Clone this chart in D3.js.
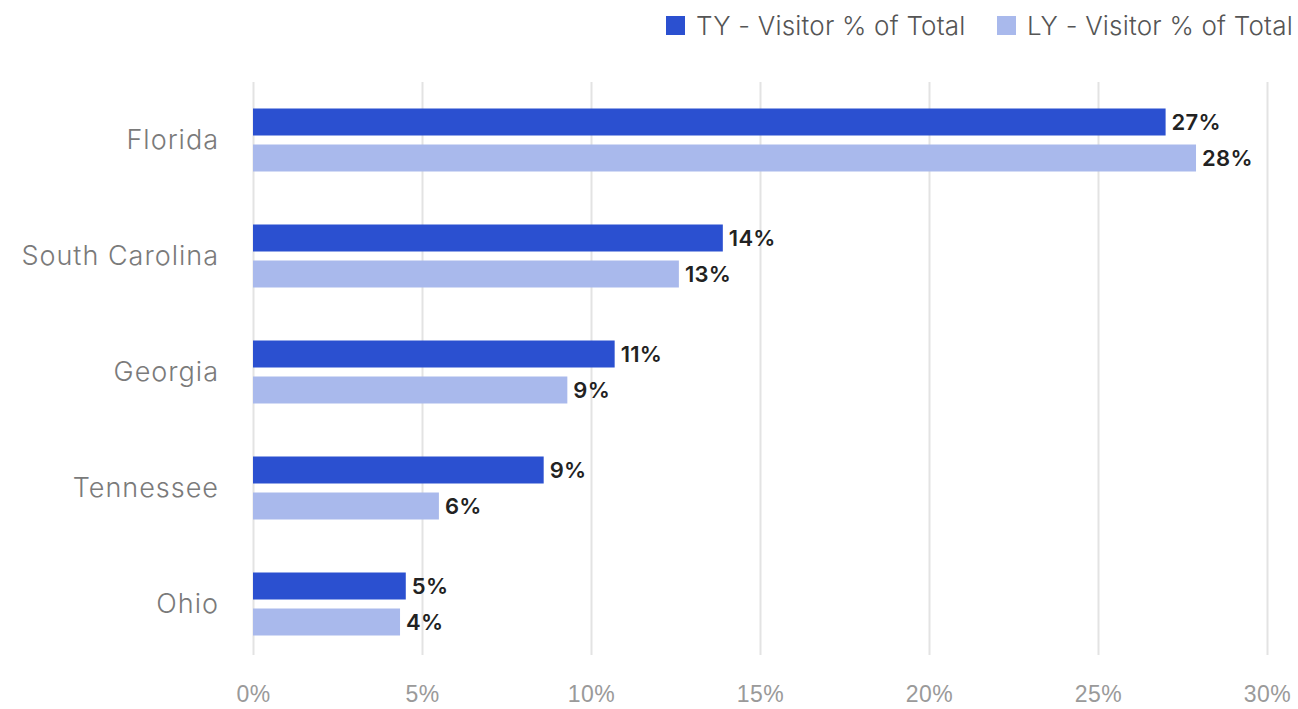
<!DOCTYPE html>
<html>
<head>
<meta charset="utf-8">
<script src="https://cdn.jsdelivr.net/npm/d3@7"></script>
<style>
  body { margin: 0; background: #fff; }
  svg { font-family: "Inter", "Lato", sans-serif; }
  .grid line { stroke: #e3e3e3; stroke-width: 2; }
  .grid path { display: none; }
  .x.axis path, .x.axis line { display: none; }
  .x.axis text { fill: #9a9a9a; font-size: 23px; font-weight: 300; letter-spacing: 0.5px; }
  .cat text { fill: #7a7a7a; font-size: 27px; font-weight: 300; letter-spacing: 1px; }
  .val { fill: #222; font-size: 22px; font-weight: 600; letter-spacing: 0.3px; }
  .legend text { fill: #555; font-size: 26px; font-weight: 300; letter-spacing: 0.2px; }
</style>
</head>
<body>
<svg id="chart"></svg>
<script>
var states = ["Florida", "South Carolina", "Georgia", "Tennessee", "Ohio"];
var series = ["TY - Visitor % of Total", "LY - Visitor % of Total"];
var ty_values = [27.0, 13.9, 10.7, 8.6, 4.52];
var ly_values = [27.9, 12.6, 9.3, 5.5, 4.35];
var x_ticks = [0, 5, 10, 15, 20, 25, 30];
var colors = ["#2b50d0", "#a9b9ec"];

var W = 1298, H = 709;
var svg = d3.select("#chart").attr("width", W).attr("height", H);

var x = d3.scaleLinear().domain([0, 30]).range([253, 1267]);
var y0 = d3.scaleBand().domain(states).range([82, 662]);
var y1 = d3.scaleBand().domain(series).range([0, 63]).paddingInner(0.25);

// gridlines
svg.append("g")
    .attr("class", "grid")
    .attr("transform", "translate(0,655)")
    .call(d3.axisBottom(x).tickValues(x_ticks).tickSize(-573).tickFormat(""));

// x axis labels
svg.append("g")
    .attr("class", "x axis")
    .attr("transform", "translate(0,683)")
    .call(d3.axisBottom(x).tickValues(x_ticks).tickSize(0).tickFormat(function (d) { return d + "%"; }));

// category labels
svg.append("g")
    .attr("class", "cat")
    .selectAll("text")
    .data(states)
    .join("text")
    .attr("x", 219)
    .attr("y", function (d) { return y0(d) + y0.bandwidth() / 2; })
    .attr("dy", "0.35em")
    .attr("text-anchor", "end")
    .text(function (d) { return d; });

var rows = [];
states.forEach(function (s, i) {
    rows.push({ state: s, key: series[0], v: ty_values[i], c: colors[0] });
    rows.push({ state: s, key: series[1], v: ly_values[i], c: colors[1] });
});

function barY(d) {
    return y0(d.state) + (y0.bandwidth() - 63) / 2 + y1(d.key);
}

svg.append("g")
    .selectAll("rect")
    .data(rows)
    .join("rect")
    .attr("x", x(0))
    .attr("y", barY)
    .attr("width", function (d) { return x(d.v) - x(0); })
    .attr("height", y1.bandwidth())
    .attr("fill", function (d) { return d.c; });

svg.append("g")
    .selectAll("text")
    .data(rows)
    .join("text")
    .attr("class", "val")
    .attr("x", function (d) { return x(d.v) + 6; })
    .attr("y", function (d) { return barY(d) + y1.bandwidth() / 2; })
    .attr("dy", "0.36em")
    .text(function (d) { return Math.round(d.v) + "%"; });

// legend
var legend = svg.append("g").attr("class", "legend");
var lx = [666, 997];
series.forEach(function (s, i) {
    legend.append("rect")
        .attr("x", lx[i]).attr("y", 16)
        .attr("width", 19).attr("height", 19)
        .attr("fill", colors[i]);
    legend.append("text")
        .attr("x", lx[i] + 30).attr("y", 26)
        .attr("dy", "0.36em")
        .text(s);
});
</script>
</body>
</html>
